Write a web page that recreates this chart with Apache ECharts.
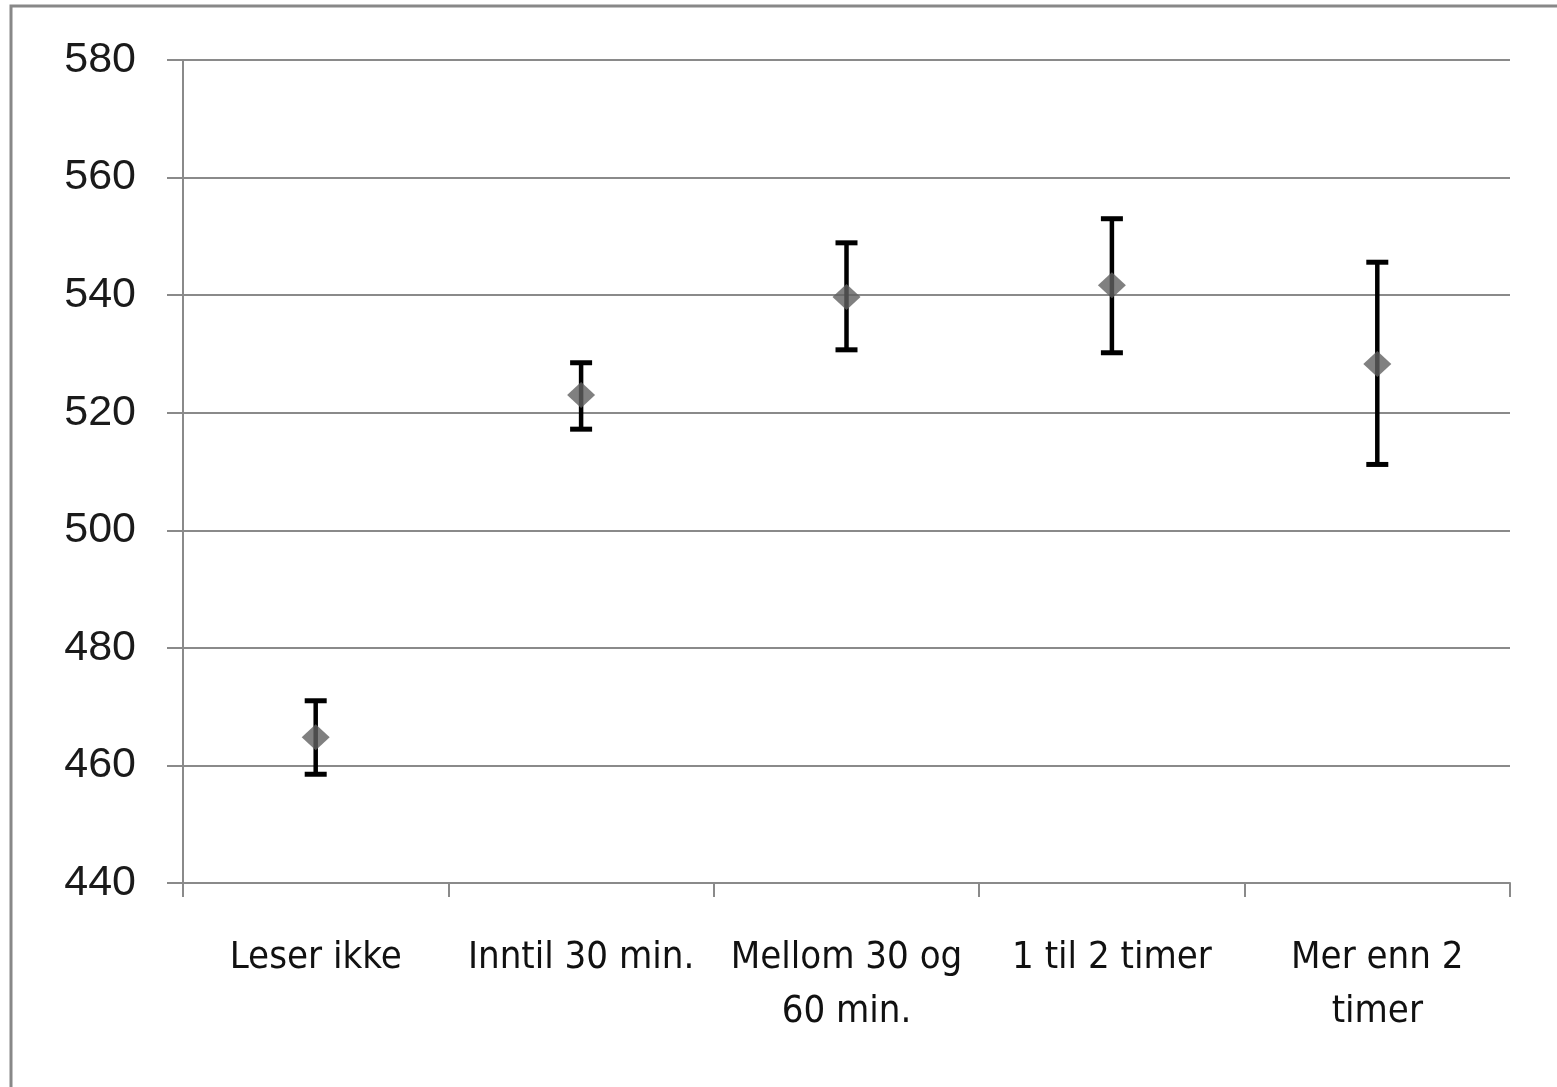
<!DOCTYPE html>
<html>
<head>
<meta charset="utf-8">
<script src="https://cdn.jsdelivr.net/npm/echarts@6/dist/echarts.min.js"></script>
<style>
html,body{margin:0;padding:0;background:#fff;}
#chart{width:1557px;height:1087px;}
</style>
</head>
<body>
<div id="chart"></div>
<script>
const categories = ['Leser ikke', 'Inntil 30 min.', 'Mellom 30 og\n60 min.', '1 til 2 timer', 'Mer enn 2\ntimer'];
const means = [464.8, 523.0, 539.7, 541.7, 528.3];
const upper = [471.0, 528.5, 548.9, 553.0, 545.6];
const lower = [458.5, 517.2, 530.7, 530.2, 511.2];
const yMin = 440, yMax = 580, yStep = 20;

const chart = echarts.init(document.getElementById('chart'), null, {renderer: 'canvas'});
const errData = categories.map((c, i) => [i, lower[i], upper[i]]);

chart.setOption({
  backgroundColor: '#fff',
  animation: false,
  graphic: [{
    type: 'rect',
    shape: {x: 11, y: 6, width: 1700, height: 1300},
    style: {fill: 'none', stroke: '#888', lineWidth: 3},
    z: 100
  }],
  grid: {left: 183, right: 47, top: 60, bottom: 204, containLabel: false},
  xAxis: {
    type: 'category',
    data: categories,
    boundaryGap: true,
    axisLine: {show: true, lineStyle: {color: '#8a8a8a', width: 2}},
    axisTick: {show: true, length: 14, lineStyle: {color: '#8a8a8a', width: 2}},
    axisLabel: {
      interval: 0,
      hideOverlap: false,
      overflow: 'none',
      margin: 48,
      fontFamily: "'Liberation Sans Narrow', 'DejaVu Sans Condensed', 'Liberation Sans', sans-serif",
      fontSize: 38,
      lineHeight: 54,
      color: '#111'
    },
    splitLine: {show: false}
  },
  yAxis: {
    type: 'value',
    min: yMin, max: yMax, interval: yStep,
    axisLine: {show: true, lineStyle: {color: '#8a8a8a', width: 2}},
    axisTick: {show: true, length: 16, lineStyle: {color: '#8a8a8a', width: 2}},
    axisLabel: {
      margin: 47,
      fontFamily: "'Liberation Sans', Arial, sans-serif",
      fontSize: 43,
      color: '#1a1a1a'
    },
    splitLine: {show: true, lineStyle: {color: '#8a8a8a', width: 2}}
  },
  series: [
    {
      type: 'custom',
      z: 2,
      data: errData,
      renderItem: function (params, api) {
        const x = api.value(0);
        const top = api.coord([x, api.value(2)]);
        const bot = api.coord([x, api.value(1)]);
        const hw = 11;
        return {
          type: 'group',
          children: [
            {type: 'line', shape: {x1: top[0], y1: top[1], x2: bot[0], y2: bot[1]}, style: {stroke: '#000', lineWidth: 4.5}},
            {type: 'line', shape: {x1: top[0] - hw, y1: top[1], x2: top[0] + hw, y2: top[1]}, style: {stroke: '#000', lineWidth: 5}},
            {type: 'line', shape: {x1: bot[0] - hw, y1: bot[1], x2: bot[0] + hw, y2: bot[1]}, style: {stroke: '#000', lineWidth: 5}}
          ]
        };
      }
    },
    {
      type: 'scatter',
      z: 3,
      symbol: 'diamond',
      symbolSize: [28, 26],
      itemStyle: {color: '#606060'},
      data: means
    }
  ]
});
</script>
</body>
</html>
